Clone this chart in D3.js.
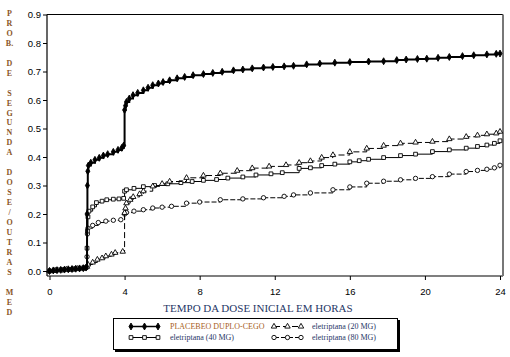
<!DOCTYPE html>
<html><head><meta charset="utf-8">
<script src="https://cdn.jsdelivr.net/npm/d3@7"></script>
<style>
html,body{margin:0;padding:0;background:#fff;}
svg{display:block;}
</style></head>
<body><svg id="c" width="510" height="357"></svg>
<script>
// ---- data (hours, cumulative probability) ----
const placebo = [[0,0],[0.2,0.002],[0.4,0.003],[0.6,0.004],[0.8,0.005],[1.0,0.006],[1.2,0.007],[1.4,0.008],[1.6,0.009],[1.8,0.01],[1.95,0.012],[2.0,0.2],[2.02,0.3],[2.04,0.35],[2.07,0.37],[2.2,0.38],[2.42,0.39],[2.65,0.397],[2.87,0.405],[3.1,0.41],[3.4,0.418],[3.65,0.425],[3.85,0.432],[3.95,0.44],[4.0,0.565],[4.05,0.58],[4.1,0.593],[4.25,0.605],[4.45,0.617],[4.7,0.625],[5.0,0.634],[5.25,0.643],[5.5,0.652],[5.8,0.658],[6.05,0.663],[6.4,0.669],[6.8,0.676],[7.2,0.681],[7.65,0.687],[8.2,0.691],[8.7,0.695],[9.2,0.699],[9.8,0.704],[10.3,0.707],[10.8,0.711],[11.4,0.714],[11.9,0.716],[12.5,0.718],[13.0,0.720],[13.7,0.725],[14.4,0.728],[15.2,0.731],[16.0,0.733],[17.0,0.735],[17.8,0.736],[18.5,0.740],[19.0,0.742],[19.6,0.744],[20.1,0.745],[20.7,0.748],[21.3,0.751],[22.0,0.754],[22.6,0.757],[23.3,0.760],[23.8,0.762],[24.0,0.763]];
const ele20 = [[0,0],[0.3,0.002],[0.6,0.003],[0.9,0.005],[1.2,0.006],[1.5,0.008],[1.8,0.01],[2.0,0.015],[2.05,0.023],[2.3,0.03],[2.55,0.04],[2.8,0.045],[3.0,0.052],[3.3,0.058],[3.5,0.064],[3.9,0.068],[4.0,0.204],[4.05,0.22],[4.1,0.238],[4.3,0.25],[4.46,0.26],[4.8,0.27],[5.0,0.28],[5.5,0.297],[6.0,0.306],[6.4,0.314],[7.3,0.327],[8.2,0.335],[9.1,0.343],[10.0,0.352],[10.8,0.361],[11.7,0.367],[12.6,0.372],[13.3,0.38],[13.9,0.386],[14.5,0.398],[15.1,0.407],[16.0,0.418],[16.9,0.43],[17.8,0.44],[18.7,0.448],[19.5,0.451],[20.4,0.454],[21.3,0.463],[22.2,0.471],[22.8,0.476],[23.3,0.48],[23.8,0.483],[24.0,0.489]];
const ele40 = [[0,0],[0.25,0.002],[0.5,0.004],[0.8,0.005],[1.1,0.006],[1.4,0.008],[1.7,0.01],[1.95,0.012],[2.0,0.08],[2.02,0.14],[2.05,0.19],[2.1,0.21],[2.3,0.225],[2.5,0.24],[2.8,0.245],[3.05,0.25],[3.4,0.252],[3.7,0.253],[3.95,0.255],[4.0,0.28],[4.1,0.285],[4.5,0.29],[5.0,0.296],[5.6,0.30],[6.3,0.306],[7.0,0.31],[7.6,0.314],[8.2,0.318],[8.9,0.321],[9.5,0.326],[10.3,0.33],[11.0,0.337],[11.8,0.341],[12.4,0.345],[13.3,0.36],[13.9,0.362],[14.5,0.37],[15.2,0.375],[16.0,0.383],[16.5,0.387],[17.0,0.392],[17.8,0.398],[18.7,0.405],[19.5,0.41],[20.4,0.419],[21.3,0.425],[22.2,0.431],[22.8,0.437],[23.3,0.442],[23.7,0.448],[24.0,0.457]];
const ele80 = [[0,0],[0.35,0.002],[0.7,0.004],[1.0,0.005],[1.3,0.007],[1.6,0.008],[1.9,0.01],[2.0,0.05],[2.02,0.13],[2.05,0.15],[2.3,0.16],[2.6,0.17],[3.0,0.175],[3.4,0.178],[3.8,0.18],[4.0,0.20],[4.1,0.205],[4.5,0.21],[5.0,0.215],[5.5,0.221],[6.0,0.224],[6.5,0.227],[7.3,0.238],[8.0,0.242],[9.1,0.25],[10.3,0.253],[11.4,0.257],[12.5,0.262],[13.0,0.267],[13.9,0.274],[15.1,0.285],[16.0,0.295],[16.9,0.308],[17.8,0.315],[18.7,0.32],[19.5,0.325],[20.4,0.331],[21.3,0.34],[22.2,0.349],[22.8,0.353],[23.3,0.357],[23.7,0.362],[24.0,0.371]];

const xTicks = [0,4,8,12,16,20,24];
const yTicks = [0,0.1,0.2,0.3,0.4,0.5,0.6,0.7,0.8,0.9];
const seriesNames = ["PLACEBEO DUPLO-CEGO","eletriptana (20 MG)","eletriptana (40 MG)","eletriptana (80 MG)"];
const xTitle = "TEMPO DA DOSE INICIAL EM HORAS";
const yTitleLines = ["P","R","O","B.","","D","E","","S","E","G","U","N","D","A","","D","O","S","E","/","O","U","T","R","A","S","","M","E","D"];

// ---- layout ----
const svg = d3.select("#c");
const x = d3.scaleLinear().domain([0,24]).range([49.5,500]);
const y = d3.scaleLinear().domain([0,0.9]).range([271,14.5]);
const frame = {l:47, r:503, t:14.5, b:276};

const series = [
  {name:seriesNames[0], data:placebo, sym:d3.symbolDiamond, fill:"#000", dash:null, w:2, size:14},
  {name:seriesNames[1], data:ele20, sym:d3.symbolTriangle, fill:"#fff", dash:"6,3", w:1, size:13},
  {name:seriesNames[2], data:ele40, sym:d3.symbolSquare, fill:"#fff", dash:null, w:1, size:14},
  {name:seriesNames[3], data:ele80, sym:d3.symbolCircle, fill:"#fff", dash:"5,2", w:1, size:15}
];

// frame
svg.append("line").attr("x1",frame.l).attr("x2",frame.r).attr("y1",frame.t).attr("y2",frame.t).attr("stroke","#000").attr("stroke-width",1);
svg.append("line").attr("x1",frame.l).attr("x2",frame.r).attr("y1",frame.b).attr("y2",frame.b).attr("stroke","#000").attr("stroke-width",1.2);
svg.append("line").attr("x1",frame.l).attr("x2",frame.l).attr("y1",frame.t).attr("y2",frame.b).attr("stroke","#000").attr("stroke-width",1.2);
svg.append("line").attr("x1",frame.r).attr("x2",frame.r).attr("y1",frame.t).attr("y2",frame.b).attr("stroke","#777").attr("stroke-width",2);

// axes
const yAxis = svg.append("g").attr("transform",`translate(${frame.l},0)`)
  .call(d3.axisLeft(y).tickValues(yTicks).tickFormat(d3.format(".1f")).tickSize(4).tickPadding(2));
yAxis.select(".domain").remove();
yAxis.selectAll("text").attr("font-family","Liberation Sans, Arial, sans-serif").attr("font-size","9.5px").attr("fill","#000");
const xAxis = svg.append("g").attr("transform",`translate(0,${frame.b})`)
  .call(d3.axisBottom(x).tickValues(xTicks).tickFormat(d3.format("d")).tickSize(4).tickPadding(8));
xAxis.select(".domain").remove();
xAxis.selectAll("text").attr("font-family","Liberation Sans, Arial, sans-serif").attr("font-size","9.5px").attr("fill","#000");

// titles
svg.append("text").attr("x",258).attr("y",312).attr("text-anchor","middle")
  .attr("font-family","Liberation Serif, Times New Roman, serif").attr("font-size","11px").attr("fill","#1f3766").text(xTitle);
svg.append("g").selectAll("text").data(yTitleLines).join("text")
  .attr("x",9.5).attr("y",(d,i)=>16 + i*9.95).attr("text-anchor","middle")
  .attr("font-family","Liberation Serif, Times New Roman, serif").attr("font-size","8px").attr("font-weight","bold")
  .attr("fill","#8a5626").text(d=>d);

// curves
const line = d3.line().x(d=>x(d[0])).y(d=>y(d[1])).curve(d3.curveStepAfter);
const gPlot = svg.append("g");
series.slice().reverse().forEach(s=>{
  gPlot.append("path").attr("d",line(s.data)).attr("fill","none").attr("stroke","#000")
    .attr("stroke-width",s.w).attr("stroke-dasharray",s.dash);
  gPlot.append("g").selectAll("path").data(s.data).join("path")
    .attr("transform",d=>`translate(${x(d[0])},${y(d[1])})`)
    .attr("d",d3.symbol().type(s.sym).size(s.size))
    .attr("fill",s.fill).attr("stroke","#000").attr("stroke-width",0.9);
});

// legend
const lg = svg.append("g");
lg.append("rect").attr("x",115).attr("y",320).attr("width",285).attr("height",32).attr("fill","#000");
lg.append("rect").attr("x",113.5).attr("y",318.5).attr("width",284).attr("height",31).attr("fill","#fff").attr("stroke","#000").attr("stroke-width",1);
const legPos = [{x:131,y:329,tx:170,col:"#a8601c"},{x:274,y:329,tx:312,col:"#1f3766"},{x:131,y:340,tx:170,col:"#1f3766"},{x:274,y:340,tx:312,col:"#1f3766"}];
series.forEach((s,i)=>{
  const p = legPos[i];
  lg.append("line").attr("x1",p.x).attr("x2",p.x+27).attr("y1",p.y-2.5).attr("y2",p.y-2.5)
    .attr("stroke","#000").attr("stroke-width",Math.min(s.w,1.5)).attr("stroke-dasharray",s.dash);
  [0,13.5,27].forEach(o=>{
    lg.append("path").attr("transform",`translate(${p.x+o},${p.y-2.5})`)
      .attr("d",d3.symbol().type(s.sym).size(s.size)).attr("fill",s.fill).attr("stroke","#000").attr("stroke-width",0.9);
  });
  lg.append("text").attr("x",p.tx).attr("y",p.y).attr("font-family","Liberation Serif, Times New Roman, serif")
    .attr("font-size","8px").attr("fill",p.col).text(s.name);
});
</script></body></html>
